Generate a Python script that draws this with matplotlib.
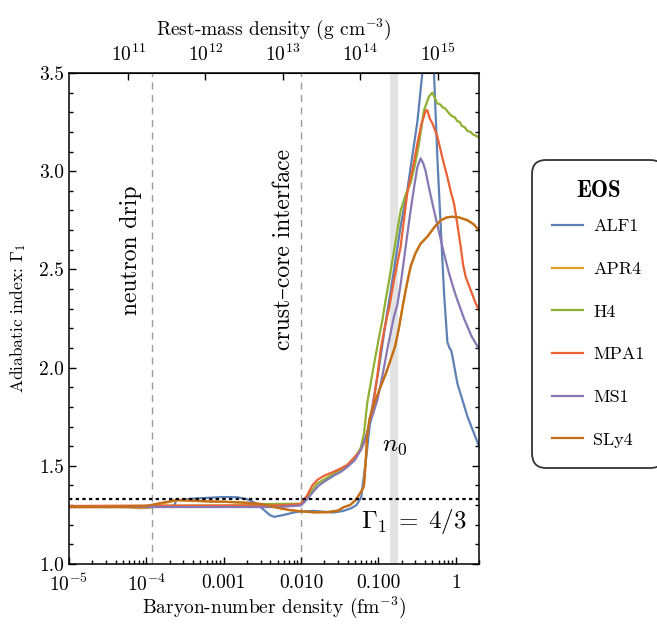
import numpy as np
import matplotlib
matplotlib.use("Agg")
import matplotlib.pyplot as plt
from matplotlib.ticker import LogLocator, NullFormatter, NullLocator, MultipleLocator

plt.rcParams['font.family'] = ['cmr10', 'DejaVu Serif']
plt.rcParams['mathtext.fontset'] = 'cm'
plt.rcParams['axes.formatter.use_mathtext'] = True

# baryon-number density (fm^-3) and adiabatic index for each EOS
alf1_n = [1e-5, 2e-5, 3e-5, 5e-5, 1e-4, 2.3e-4, 2.45e-4, 2.6e-4, 4e-4, 7e-4, 1e-3, 1.5e-3,
          2e-3, 2.6e-3, 3.2e-3, 4e-3, 4.5e-3, 6e-3, 8e-3, 1e-2, 1.5e-2, 2.6e-2, 3.5e-2,
          4.5e-2, 5.2e-2, 6e-2, 7e-2, 8e-2, 0.1, 0.13, 0.16, 0.194, 0.236, 0.28, 0.319,
          0.37, 0.44, 0.524, 0.58, 0.64, 0.706, 0.78, 0.83, 0.87, 0.905, 1.05, 1.42, 2.0]
alf1_gamma = [1.292, 1.295, 1.290, 1.293, 1.292, 1.296, 1.330, 1.325, 1.333, 1.338, 1.341, 1.340,
              1.330, 1.310, 1.280, 1.248, 1.240, 1.250, 1.262, 1.268, 1.270, 1.262, 1.270,
              1.285, 1.300, 1.340, 1.550, 1.760, 1.980, 2.280, 2.500, 2.720, 2.900, 3.100, 3.250,
              3.500, 4.300, 3.500, 3.060, 2.720, 2.380, 2.130, 2.100, 2.090, 2.060, 1.920, 1.750, 1.600]

apr4_n = [1e-5, 3e-5, 6e-5, 8e-5, 1.1e-4, 1.5e-4, 2.5e-4, 4e-4, 7e-4, 1e-3, 2e-3, 3e-3, 4e-3,
          5e-3, 7e-3, 1e-2, 1.5e-2, 2.2e-2, 3e-2, 3.6e-2, 4.3e-2, 5.1e-2, 5.8e-2, 6.5e-2,
          6.8e-2, 7.2e-2, 7.7e-2, 8.3e-2, 9.5e-2, 0.107, 0.125, 0.144, 0.165, 0.184, 0.21,
          0.235, 0.261, 0.3, 0.35, 0.43, 0.53, 0.64, 0.77, 0.9, 1.1, 1.42, 1.7, 2.0]
apr4_gamma = [1.290, 1.290, 1.288, 1.284, 1.286, 1.306, 1.324, 1.322, 1.318, 1.317, 1.311, 1.305, 1.295,
              1.286, 1.275, 1.268, 1.263, 1.264, 1.272, 1.290, 1.300, 1.326, 1.360, 1.394,
              1.500, 1.665, 1.740, 1.784, 1.850, 1.903, 1.970, 2.040, 2.110, 2.200, 2.330,
              2.430, 2.514, 2.580, 2.630, 2.667, 2.715, 2.750, 2.765, 2.768, 2.765, 2.750, 2.730, 2.700]

h4_n = [1e-5, 1e-4, 1e-3, 2.5e-3, 3e-3, 5e-3, 1e-2, 1.3e-2, 1.62e-2, 2.66e-2, 3.95e-2, 5e-2,
        5.89e-2, 6.5e-2, 7.18e-2, 8.2e-2, 9.2e-2, 0.1025, 0.1125, 0.124, 0.137, 0.16, 0.194,
        0.225, 0.261, 0.3, 0.335, 0.389, 0.45, 0.499, 0.54, 0.58, 0.63, 0.68, 0.73, 0.78,
        0.84, 0.9, 0.97, 1.05, 1.13, 1.2, 1.3, 1.42, 1.55, 1.7, 1.85, 2.0]
h4_gamma = [1.295, 1.296, 1.297, 1.300, 1.305, 1.306, 1.307, 1.360, 1.410, 1.460, 1.500, 1.540,
            1.590, 1.660, 1.820, 1.950, 2.060, 2.160, 2.240, 2.344, 2.440, 2.600, 2.800,
            2.880, 2.940, 3.040, 3.140, 3.310, 3.380, 3.400, 3.370, 3.345, 3.340, 3.325, 3.320, 3.305,
            3.290, 3.280, 3.275, 3.255, 3.250, 3.230, 3.225, 3.205, 3.200, 3.185, 3.180, 3.170]

mpa1_n = [1e-5, 1e-4, 1e-3, 5e-3, 1e-2, 1.2e-2, 1.4e-2, 1.62e-2, 2e-2, 2.66e-2, 3.2e-2, 3.95e-2,
          4.8e-2, 5.89e-2, 6.5e-2, 7.2e-2, 8e-2, 8.77e-2, 9.7e-2, 0.107, 0.12, 0.137, 0.16,
          0.194, 0.236, 0.28, 0.319, 0.36, 0.389, 0.41, 0.43, 0.46, 0.499, 0.58, 0.68, 0.78,
          0.87, 0.95, 1.05, 1.16, 1.25, 1.35, 1.56, 1.8, 2.0]
mpa1_gamma = [1.295, 1.297, 1.298, 1.298, 1.305, 1.350, 1.400, 1.428, 1.450, 1.470, 1.485, 1.504,
              1.540, 1.580, 1.615, 1.665, 1.750, 1.835, 1.960, 2.090, 2.200, 2.300, 2.450,
              2.616, 2.887, 3.020, 3.140, 3.240, 3.280, 3.310, 3.310, 3.270, 3.244, 3.176, 3.060, 2.970,
              2.890, 2.836, 2.730, 2.616, 2.520, 2.460, 2.395, 2.330, 2.293]

ms1_n = [1e-5, 1e-4, 1e-3, 5e-3, 1e-2, 1.2e-2, 1.45e-2, 1.7e-2, 2.1e-2, 2.66e-2, 3.3e-2, 4e-2,
         5e-2, 5.9e-2, 6.5e-2, 7.2e-2, 8.3e-2, 9.7e-2, 0.113, 0.13, 0.159, 0.176, 0.195, 0.214,
         0.237, 0.261, 0.29, 0.319, 0.352, 0.38, 0.408, 0.46, 0.524, 0.6, 0.706, 0.82, 0.95,
         1.05, 1.28, 1.6, 2.0]
ms1_gamma = [1.290, 1.290, 1.290, 1.290, 1.298, 1.330, 1.370, 1.400, 1.425, 1.450, 1.470, 1.495,
             1.530, 1.580, 1.620, 1.674, 1.750, 1.835, 1.960, 2.090, 2.260, 2.320, 2.430, 2.548,
             2.680, 2.800, 2.920, 3.020, 3.066, 3.040, 3.000, 2.900, 2.800, 2.700, 2.580, 2.480, 2.395,
             2.344, 2.250, 2.160, 2.095]

sly4_n = [1e-5, 3e-5, 6e-5, 1e-4, 1.5e-4, 2.5e-4, 4e-4, 7e-4, 1e-3, 2e-3, 3e-3, 4e-3, 5e-3,
          7e-3, 1e-2, 1.5e-2, 2.2e-2, 3e-2, 3.6e-2, 4.3e-2, 5.1e-2, 5.8e-2, 6.5e-2, 6.8e-2,
          7.2e-2, 7.7e-2, 8.3e-2, 9.5e-2, 0.107, 0.125, 0.144, 0.165, 0.184, 0.21, 0.235,
          0.261, 0.3, 0.35, 0.43, 0.53, 0.64, 0.77, 0.9, 1.1, 1.42, 1.7, 2.0]
sly4_gamma = [1.290, 1.290, 1.292, 1.296, 1.310, 1.326, 1.322, 1.318, 1.317, 1.312, 1.306, 1.295,
              1.286, 1.275, 1.268, 1.263, 1.264, 1.272, 1.290, 1.300, 1.326, 1.360, 1.394, 1.500,
              1.665, 1.740, 1.784, 1.850, 1.903, 1.970, 2.040, 2.110, 2.200, 2.330, 2.430,
              2.514, 2.580, 2.630, 2.667, 2.715, 2.750, 2.765, 2.768, 2.765, 2.750, 2.730, 2.700]

eos_names = ['ALF1', 'APR4', 'H4', 'MPA1', 'MS1', 'SLy4']
eos_colors = ['#5E81B5', '#E19C24', '#8FB032', '#EB6235', '#8778B3', '#C56E1A']
eos_data = [(alf1_n, alf1_gamma), (apr4_n, apr4_gamma), (h4_n, h4_gamma),
            (mpa1_n, mpa1_gamma), (ms1_n, ms1_gamma), (sly4_n, sly4_gamma)]

n_drip = 1.2e-4      # neutron drip
n_cc = 1.0e-2        # crust-core interface
n_sat = 0.16         # nuclear saturation density
n_sat_band = (0.14, 0.18)
gamma_rel = 4.0 / 3.0
rho_per_n = 1.72e15  # g cm^-3 per fm^-3

fig = plt.figure(figsize=(6.57, 6.24), dpi=100)
ax = fig.add_axes([69 / 657, 1 - 564 / 624, 410 / 657, 491 / 624])

ax.axvspan(*n_sat_band, color='#e3e3e3', lw=0, zorder=0)
for nv in (n_drip, n_cc):
    ax.axvline(nv, color='#9a9a9a', lw=1.0, ls=(0, (5, 4)), zorder=1)

for name, col, (n, g) in zip(eos_names, eos_colors, eos_data):
    ax.plot(n, g, color=col, lw=1.6, label=name, zorder=2)

ax.axhline(gamma_rel, color='black', lw=1.6, ls=(0, (1.5, 1.5)), zorder=3)

ax.set_xscale('log')
ax.set_xlim(1e-5, 2.0)
ax.set_ylim(1.0, 3.5)

ax.set_xticks([1e-5, 1e-4, 1e-3, 1e-2, 1e-1, 1.0])
ax.set_xticklabels([r'$10^{-5}$', r'$10^{-4}$', '0.001', '0.010', '0.100', '1'])
ax.xaxis.set_minor_locator(LogLocator(base=10, subs=np.arange(2, 10), numticks=20))
ax.xaxis.set_minor_formatter(NullFormatter())
ax.set_yticks([1.0, 1.5, 2.0, 2.5, 3.0, 3.5])
ax.set_yticklabels(['1.0', '1.5', '2.0', '2.5', '3.0', '3.5'])
ax.yaxis.set_minor_locator(MultipleLocator(0.1))

ax.tick_params(which='both', direction='in', top=False, right=True, labelsize=14, width=1.0)
ax.tick_params(which='major', length=5)
ax.tick_params(which='minor', length=3)
ax.tick_params(axis='x', which='both', pad=7)
for sp in ax.spines.values():
    sp.set_linewidth(1.1)

ax.set_xlabel(r'Baryon-number density (fm$^{-3}$)', fontsize=14, labelpad=0)
ax.set_ylabel(r'Adiabatic index: $\Gamma_1$', fontsize=12.5, labelpad=8)

# rest-mass density on the top axis
top = ax.secondary_xaxis('top', functions=(lambda n: n * rho_per_n, lambda r: r / rho_per_n))
top.set_xticks([1e11, 1e12, 1e13, 1e14, 1e15])
top.set_xticklabels([r'$10^{11}$', r'$10^{12}$', r'$10^{13}$', r'$10^{14}$', r'$10^{15}$'])
top.xaxis.set_minor_locator(NullLocator())
top.tick_params(direction='in', length=5, labelsize=14, pad=6, width=1.0)
top.set_xlabel(r'Rest-mass density (g cm$^{-3}$)', fontsize=14, labelpad=6)

ax.text(6.35e-5, 2.6, 'neutron drip', rotation=90, ha='center', va='center', fontsize=17)
ax.text(6.1e-3, 2.6, 'crust–core interface', rotation=90, ha='center', va='center', fontsize=17)
ax.text(n_sat, 1.60, r'$n_0$', ha='center', va='center', fontsize=18)
ax.text(0.29, 1.214, r'$\Gamma_1\;=\;4/3$', ha='center', va='center', fontsize=18)

leg = fig.legend(loc='upper left', bbox_to_anchor=(532 / 657, 1 - 160 / 624),
                 borderaxespad=0, frameon=True, fancybox=True, fontsize=13,
                 title='EOS', title_fontproperties={'family': 'cmb10', 'size': 16.5},
                 labelspacing=1.5, handlelength=1.7, handletextpad=0.6, borderpad=1.1)
# tighter gap between the title and the first entry
leg._legend_box.sep = 12
leg.get_frame().set_edgecolor('black')
leg.get_frame().set_linewidth(1.3)
leg.get_frame().set_boxstyle('round', pad=0, rounding_size=0.8)

fig.savefig('out.png', dpi=100)
